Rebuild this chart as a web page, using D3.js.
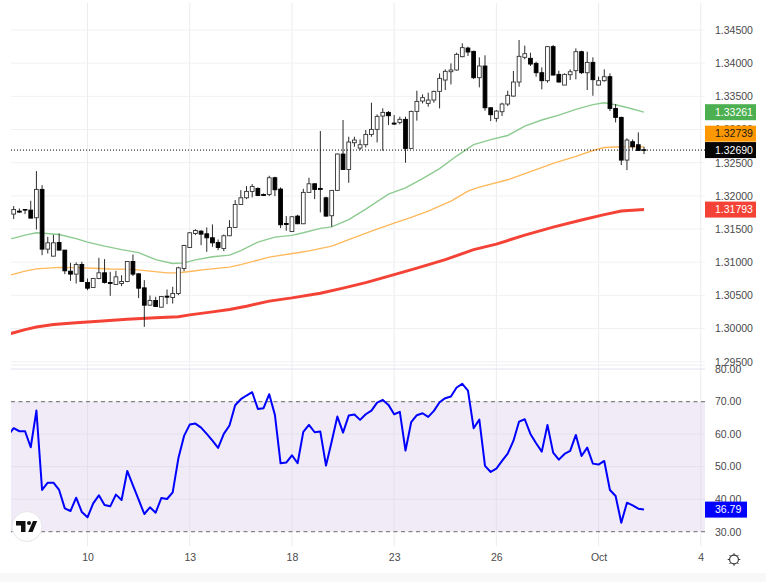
<!DOCTYPE html>
<html>
<head>
<meta charset="utf-8">
<script src="https://cdn.jsdelivr.net/npm/d3@7"></script>
<style>
  html, body { margin: 0; padding: 0; background: #fff; }
  svg { display: block; }
  text { font-family: "Liberation Sans", Arial, sans-serif; }
</style>
</head>
<body>
<div id="chart"></div>
<script>
// candles, left to right
const opens = [1.31725,1.31770,1.31795,1.31785,1.31670,1.32097,1.31197,1.31091,1.31297,1.31182,1.30865,1.30820,1.30965,1.30694,1.30618,1.30754,1.30840,1.30694,1.30664,1.30679,1.30709,1.31011,1.30825,1.30613,1.30352,1.30422,1.30322,1.30488,1.30468,1.30528,1.30905,1.31222,1.31433,1.31468,1.31428,1.31368,1.31297,1.31207,1.31398,1.31524,1.31870,1.31971,1.32067,1.32112,1.32021,1.32021,1.32273,1.32102,1.31584,1.31463,1.31695,1.31579,1.32052,1.32182,1.32112,1.31971,1.31700,1.32082,1.32630,1.32398,1.32801,1.32720,1.32771,1.32926,1.33002,1.33203,1.33258,1.33097,1.33107,1.33153,1.32715,1.33273,1.33429,1.33394,1.33444,1.33575,1.33746,1.33871,1.33897,1.34098,1.34228,1.34178,1.33781,1.33957,1.33328,1.33168,1.33268,1.33384,1.33504,1.33716,1.34088,1.34073,1.33997,1.33856,1.33736,1.34249,1.33831,1.33670,1.33826,1.33887,1.34173,1.33856,1.34012,1.33670,1.33736,1.33796,1.33318,1.33183,1.32539,1.32816,1.32770,1.32695];
const highs = [1.31845,1.31810,1.31800,1.31926,1.32373,1.32162,1.31383,1.31413,1.31433,1.31182,1.30990,1.30996,1.31006,1.30754,1.30764,1.31066,1.31046,1.30855,1.30870,1.30804,1.31011,1.31116,1.30830,1.30729,1.30498,1.30478,1.30483,1.30588,1.30629,1.30930,1.31262,1.31453,1.31498,1.31483,1.31524,1.31569,1.31342,1.31418,1.31634,1.31936,1.32087,1.32147,1.32177,1.32127,1.32036,1.32303,1.32288,1.32127,1.31695,1.31695,1.31715,1.32107,1.32273,1.32187,1.32977,1.31986,1.32082,1.32640,1.33143,1.32891,1.32891,1.32851,1.32992,1.33404,1.33228,1.33319,1.33278,1.33218,1.33193,1.33193,1.33283,1.33585,1.33530,1.33555,1.33585,1.33846,1.33907,1.33997,1.34158,1.34299,1.34249,1.34188,1.34088,1.34118,1.33333,1.33293,1.33404,1.33585,1.33882,1.34349,1.34264,1.34158,1.34022,1.33937,1.34259,1.34274,1.33887,1.33846,1.33907,1.34223,1.34188,1.34173,1.34088,1.33796,1.33907,1.33846,1.33384,1.33193,1.32866,1.32851,1.32956,1.32740];
const lows = [1.31650,1.31745,1.31725,1.31664,1.31493,1.31106,1.31131,1.31091,1.31182,1.30820,1.30719,1.30679,1.30704,1.30578,1.30618,1.30744,1.30679,1.30493,1.30664,1.30639,1.30699,1.30790,1.30458,1.30025,1.30347,1.30327,1.30317,1.30367,1.30377,1.30503,1.30865,1.31217,1.31408,1.31257,1.31156,1.31232,1.31182,1.31167,1.31393,1.31524,1.31870,1.31951,1.31976,1.31996,1.32006,1.31996,1.31996,1.31514,1.31473,1.31458,1.31574,1.31574,1.32052,1.31951,1.31750,1.31685,1.31534,1.32077,1.32398,1.32197,1.32740,1.32690,1.32730,1.32891,1.32806,1.32680,1.33067,1.33067,1.33077,1.32499,1.32715,1.33133,1.33394,1.33344,1.33404,1.33318,1.33595,1.33680,1.33887,1.34088,1.34108,1.33761,1.33635,1.33283,1.33127,1.33117,1.33203,1.33354,1.33494,1.33645,1.34058,1.33957,1.33796,1.33605,1.33706,1.33816,1.33706,1.33670,1.33746,1.33756,1.33836,1.33595,1.33509,1.33665,1.33721,1.33278,1.33107,1.32464,1.32388,1.32700,1.32680,1.32630];
const closes = [1.31795,1.31755,1.31785,1.31664,1.32097,1.31197,1.31292,1.31292,1.31182,1.30870,1.30820,1.30965,1.30709,1.30608,1.30754,1.30840,1.30694,1.30679,1.30779,1.30709,1.31011,1.30820,1.30608,1.30352,1.30422,1.30332,1.30483,1.30473,1.30528,1.30915,1.31252,1.31443,1.31478,1.31423,1.31368,1.31292,1.31222,1.31398,1.31524,1.31870,1.31971,1.32067,1.32142,1.32006,1.32006,1.32273,1.32092,1.31564,1.31569,1.31685,1.31579,1.32052,1.32182,1.32097,1.32097,1.31695,1.32082,1.32630,1.32398,1.32811,1.32841,1.32771,1.32926,1.33002,1.33198,1.33258,1.33208,1.33082,1.33153,1.32715,1.33273,1.33424,1.33480,1.33444,1.33575,1.33771,1.33877,1.33897,1.34133,1.34234,1.34168,1.33781,1.33957,1.33328,1.33223,1.33278,1.33384,1.33515,1.33716,1.34103,1.34143,1.33987,1.33856,1.33736,1.34249,1.33821,1.33716,1.33831,1.33871,1.34173,1.33856,1.34012,1.33751,1.33736,1.33796,1.33318,1.33183,1.32539,1.32841,1.32740,1.32685,1.32690];

// moving averages at these candle numbers
const ma50Idx = [-1,0,2,4,8,11,13,16,19,22,25,28,30,32,35,38,40,43,46,49,51,54,56,59,62,66,69,72,75,78,81,84,87,90,93,96,99,102,104,106,108,111];
const ma50 = [1.31348,1.31363,1.31408,1.31443,1.31417,1.31355,1.31302,1.31242,1.31189,1.31144,1.31038,1.30981,1.30990,1.31035,1.31081,1.31106,1.31174,1.31302,1.31378,1.31404,1.31443,1.31509,1.31533,1.31642,1.31800,1.32026,1.32121,1.32260,1.32411,1.32600,1.32773,1.32848,1.32909,1.33052,1.33143,1.33218,1.33304,1.33376,1.33403,1.33373,1.33331,1.33261];
const ma100Idx = [-1,0,2,4,8,11,14,17,21,24,27,29,31,34,38,40,42,45,50,52,56,59,63,67,70,73,77,80,82,87,91,95,99,102,104,107,111];
const ma100 = [1.30802,1.30820,1.30865,1.30900,1.30922,1.30918,1.30909,1.30898,1.30891,1.30865,1.30839,1.30841,1.30859,1.30891,1.30925,1.30963,1.31008,1.31076,1.31143,1.31171,1.31242,1.31340,1.31468,1.31589,1.31675,1.31770,1.31921,1.32072,1.32132,1.32242,1.32366,1.32489,1.32595,1.32683,1.32728,1.32741,1.32739];
const ma200Idx = [-1,0,2,4,7,11,15,20,25,29,31,35,38,41,45,49,54,58,62,67,71,76,81,85,90,95,100,104,107,111];
const ma200 = [1.29915,1.29937,1.29983,1.30023,1.30061,1.30088,1.30111,1.30141,1.30162,1.30177,1.30206,1.30251,1.30287,1.30337,1.30413,1.30462,1.30533,1.30609,1.30692,1.30812,1.30910,1.31038,1.31189,1.31272,1.31408,1.31529,1.31637,1.31717,1.31770,1.31793];

// rsi, first value is the candle just off the left edge
const rsi = [59.6,61.8,60.87,60.87,55.95,67.23,42.82,45.08,45.08,42.82,37.18,36.36,40.46,36.05,34.41,38.72,41.18,38.21,37.8,41.39,39.75,48.67,44.26,39.85,35.44,37.49,35.85,40.36,40.05,42.1,52.56,59.44,62.92,63.23,62,60.05,58,55.74,60.05,62.62,68.87,70.72,71.85,72.87,67.74,67.95,72.26,65.9,51.03,51.23,53.49,51.03,60.67,62.82,60.56,60.77,50.31,57.69,65.38,60.46,65.69,66,64.36,66.1,67.23,69.69,70.51,68.97,66.1,66.82,54.92,63.64,65.8,66.41,65.28,67.13,69.79,71.03,71.54,74.31,75.44,73.38,61.8,64.46,50.21,48.36,49.39,51.74,54,57.9,63.85,64.56,60.05,57.18,54.62,62.82,54.31,52.15,53.9,54.82,59.74,53.28,55.85,50.92,50.62,51.74,42.82,40.97,32.77,38.92,38.1,37.08,36.79];

// axis ticks
const priceTicks = [1.345,1.34,1.335,1.33,1.325,1.32,1.315,1.31,1.305,1.30,1.295];
const rsiTicks = [80,70,60,50,40,30];
const dateIdx = [13,31,49,67,85,103,121];
const dateLabels = ["10","13","18","23","26","Oct","4"];

// last value tags
const lastClose = 1.32690;
const tagValues = [1.32739,1.33261,1.31793];
const tagFills = ["#ff9800","#4caf50","#f44336"];
const tagInks = ["#1a1a1a","#fff","#fff"];

const W = 766, H = 582;
const left = 11, right = 705;

const svg = d3.select("#chart").append("svg")
  .attr("width", W)
  .attr("height", H);

const x = d3.scaleLinear().domain([0, 111]).range([13.7, 644]);
const y = d3.scaleLinear().domain([1.295, 1.345]).range([361.7, 30]);
const yRsi = d3.scaleLinear().domain([30, 80]).range([531.7, 369]);

const defs = svg.append("defs");
defs.append("clipPath").attr("id", "plot")
  .append("rect").attr("x", left).attr("y", 0).attr("width", right - left).attr("height", 540);
defs.append("clipPath").attr("id", "priceAxis")
  .append("rect").attr("x", right).attr("y", 0).attr("width", W - right).attr("height", 366);

// bottom strip
svg.append("rect").attr("x", 0).attr("y", 573).attr("width", W).attr("height", 9).attr("fill", "#f8f8f8");

// grid
svg.append("g").selectAll("line")
  .data(dateIdx)
  .join("line")
  .attr("x1", d => x(d)).attr("x2", d => x(d))
  .attr("y1", 3).attr("y2", 546)
  .attr("stroke", "#ececf0");

svg.append("g").selectAll("line")
  .data(priceTicks)
  .join("line")
  .attr("x1", left).attr("x2", right)
  .attr("y1", d => y(d)).attr("y2", d => y(d))
  .attr("stroke", "#f1f1f3");

svg.append("line")
  .attr("x1", left).attr("x2", right)
  .attr("y1", 365).attr("y2", 365)
  .attr("stroke", "#eeeef4");

// rsi band
svg.append("rect")
  .attr("x", left).attr("width", right - left)
  .attr("y", yRsi(70)).attr("height", yRsi(30) - yRsi(70))
  .attr("fill", "#f0ebf7");

svg.append("g").selectAll("line")
  .data(rsiTicks.filter(d => d !== 70 && d !== 30))
  .join("line")
  .attr("x1", left).attr("x2", right)
  .attr("y1", d => yRsi(d)).attr("y2", d => yRsi(d))
  .attr("stroke", "#e3e0ec");

svg.append("g").selectAll("line")
  .data(dateIdx)
  .join("line")
  .attr("x1", d => x(d)).attr("x2", d => x(d))
  .attr("y1", yRsi(70)).attr("y2", yRsi(30))
  .attr("stroke", "#e3e0ec");

svg.append("g").selectAll("line")
  .data([70, 30])
  .join("line")
  .attr("x1", left).attr("x2", right)
  .attr("y1", d => yRsi(d)).attr("y2", d => yRsi(d))
  .attr("stroke", "#858585")
  .attr("stroke-width", 1.2)
  .attr("stroke-dasharray", "4,3.5");

const plot = svg.append("g").attr("clip-path", "url(#plot)");

// moving averages
const maLine = d3.line().x(d => x(d[0])).y(d => y(d[1]));

plot.append("path")
  .attr("d", maLine(d3.zip(ma50Idx, ma50)))
  .attr("fill", "none").attr("stroke", "#8ccb90").attr("stroke-width", 1.4);
plot.append("path")
  .attr("d", maLine(d3.zip(ma100Idx, ma100)))
  .attr("fill", "none").attr("stroke", "#ffb95c").attr("stroke-width", 1.4);
plot.append("path")
  .attr("d", maLine(d3.zip(ma200Idx, ma200)))
  .attr("fill", "none").attr("stroke", "#f44336").attr("stroke-width", 3);

// candles
plot.append("g").selectAll("line")
  .data(opens)
  .join("line")
  .attr("x1", (d, i) => x(i)).attr("x2", (d, i) => x(i))
  .attr("y1", (d, i) => y(highs[i])).attr("y2", (d, i) => y(lows[i]))
  .attr("stroke", "#2a2a2a")
  .attr("stroke-width", 1);

plot.append("g").selectAll("rect")
  .data(opens)
  .join("rect")
  .attr("x", (d, i) => x(i) - 1.9)
  .attr("width", 3.8)
  .attr("y", (d, i) => y(Math.max(d, closes[i])))
  .attr("height", (d, i) => Math.max(0.6, Math.abs(y(d) - y(closes[i]))))
  .attr("fill", (d, i) => closes[i] > d ? "#fff" : "#000")
  .attr("stroke", (d, i) => closes[i] > d ? "#333" : "#000")
  .attr("stroke-width", 0.9);

// last price line
svg.append("line")
  .attr("x1", left).attr("x2", right)
  .attr("y1", y(lastClose)).attr("y2", y(lastClose))
  .attr("stroke", "#000")
  .attr("stroke-dasharray", "1,2");

// rsi line
plot.append("path")
  .attr("d", d3.line().x((d, i) => x(i - 1)).y(d => yRsi(d))(rsi))
  .attr("fill", "none")
  .attr("stroke", "#0000ff")
  .attr("stroke-width", 2)
  .attr("stroke-linejoin", "round");

// axes
function cleanAxis(g) {
  g.select(".domain").remove();
  g.selectAll("line").remove();
  g.selectAll("text")
    .attr("fill", "#4a4a4a")
    .style("font-size", "10.5px")
    .style("font-family", '"Liberation Sans", Arial, sans-serif');
}

svg.append("g")
  .attr("clip-path", "url(#priceAxis)")
  .append("g")
  .attr("transform", `translate(${right + 1},0)`)
  .call(d3.axisRight(y).tickValues(priceTicks).tickFormat(d3.format(".5f")).tickSize(0).tickPadding(9))
  .call(cleanAxis);

svg.append("g")
  .attr("transform", `translate(${right + 1},0)`)
  .call(d3.axisRight(yRsi).tickValues(rsiTicks).tickFormat(d3.format(".2f")).tickSize(0).tickPadding(9))
  .call(cleanAxis);

svg.append("g")
  .attr("transform", "translate(0,550)")
  .call(d3.axisBottom(x).tickValues(dateIdx).tickFormat((d, i) => dateLabels[i]).tickSize(0).tickPadding(4))
  .call(cleanAxis);

// value tags, pushed up when they would overlap the last price tag
function tag(cy, fill, ink, label, w) {
  svg.append("rect")
    .attr("x", right).attr("y", cy - 8)
    .attr("width", w).attr("height", 16)
    .attr("fill", fill);
  svg.append("text")
    .attr("x", right + 10).attr("y", cy + 3.8)
    .attr("fill", ink)
    .style("font-size", "10.5px")
    .text(label);
}

const lastY = y(lastClose);
tagValues.forEach((v, i) => {
  const cy = Math.abs(y(v) - lastY) < 16.4 ? lastY - 16.4 : y(v);
  tag(cy, tagFills[i], tagInks[i], d3.format(".5f")(v), 51);
});
tag(lastY, "#050505", "#fff", d3.format(".5f")(lastClose), 51);
tag(yRsi(rsi[rsi.length - 1]), "#0000ff", "#fff", d3.format(".2f")(rsi[rsi.length - 1]), 42);

// logo badge
const logo = svg.append("g").attr("transform", "translate(27,526.5)");
logo.append("circle").attr("r", 15).attr("fill", "#fff").attr("stroke", "#e6e6ea");
logo.append("path")
  .attr("d", "M-11,-5.5H-1.5V5.5H-6V-1H-11Z M1.2,5.5L6,-5.5H10.2L5.6,5.5Z")
  .attr("fill", "#111");
logo.append("circle").attr("cx", 2).attr("cy", -3.5).attr("r", 2).attr("fill", "#111");

// settings icon
const gear = svg.append("g")
  .attr("transform", "translate(734,559.5)")
  .attr("stroke", "#333")
  .attr("fill", "none");
gear.append("circle").attr("r", 4.4).attr("stroke-width", 1.1);
gear.selectAll("line")
  .data(d3.range(8))
  .join("line")
  .attr("x1", d => 4.4 * Math.cos(d * Math.PI / 4))
  .attr("y1", d => 4.4 * Math.sin(d * Math.PI / 4))
  .attr("x2", d => 6.3 * Math.cos(d * Math.PI / 4))
  .attr("y2", d => 6.3 * Math.sin(d * Math.PI / 4))
  .attr("stroke-width", 1);
</script>
</body>
</html>
